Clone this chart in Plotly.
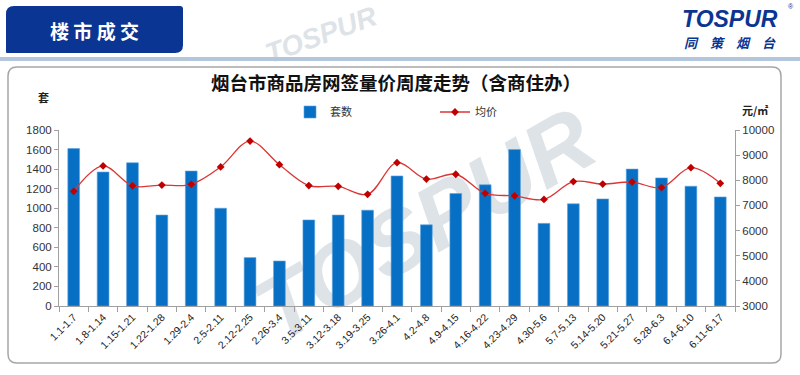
import plotly.graph_objects as go

weeks = ["1.1-1.7", "1.8-1.14", "1.15-1.21", "1.22-1.28", "1.29-2.4", "2.5-2.11",
         "2.12-2.25", "2.26-3.4", "3.5-3.11", "3.12-3.18", "3.19-3.25", "3.26-4.1",
         "4.2-4.8", "4.9-4.15", "4.16-4.22", "4.23-4.29", "4.30-5.6", "5.7-5.13",
         "5.14-5.20", "5.21-5.27", "5.28-6.3", "6.4-6.10", "6.11-6.17"]
units = [1610, 1370, 1465, 930, 1380, 1000, 495, 460, 880, 930, 980, 1330,
         830, 1150, 1240, 1600, 845, 1045, 1095, 1400, 1310, 1225, 1115]
price = [7560, 8570, 7780, 7810, 7840, 8530, 9560, 8620, 7790, 7760, 7440, 8700,
         8050, 8240, 7480, 7380, 7240, 7950, 7850, 7930, 7710, 8500, 7880]

left_ticks = [0, 200, 400, 600, 800, 1000, 1200, 1400, 1600, 1800]
right_ticks = [3000, 4000, 5000, 6000, 7000, 8000, 9000, 10000]
right_labels = [str(v) for v in right_ticks]

# plot area in pixels
X0, X1, YT, YB = 59, 735, 130, 306
W, H = 800, 375


def PX(x):
    return (x - X0) / (X1 - X0)


def PY(y):
    return (YB - y) / (YB - YT)


def rrect(x0, y0, x1, y1, r_tl, r_tr, r_br, r_bl):
    pts = []
    pts.append(f"M {PX(x0 + r_tl)},{PY(y0)}")
    pts.append(f"L {PX(x1 - r_tr)},{PY(y0)}")
    pts.append(f"Q {PX(x1)},{PY(y0)} {PX(x1)},{PY(y0 + r_tr)}")
    pts.append(f"L {PX(x1)},{PY(y1 - r_br)}")
    pts.append(f"Q {PX(x1)},{PY(y1)} {PX(x1 - r_br)},{PY(y1)}")
    pts.append(f"L {PX(x0 + r_bl)},{PY(y1)}")
    pts.append(f"Q {PX(x0)},{PY(y1)} {PX(x0)},{PY(y1 - r_bl)}")
    pts.append(f"L {PX(x0)},{PY(y0 + r_tl)}")
    pts.append(f"Q {PX(x0)},{PY(y0)} {PX(x0 + r_tl)},{PY(y0)}")
    pts.append("Z")
    return " ".join(pts)


CJK = "Noto Sans CJK SC"
NUM = "Liberation Sans"
BLUE_DARK = "#0b3593"

fig = go.Figure()
fig.add_trace(go.Bar(
    x=weeks, y=units, name="套数",
    marker=dict(color="#0870c4", line=dict(color="#5aa2e0", width=0.6)),
    yaxis="y",
))
fig.add_trace(go.Scatter(
    x=weeks, y=price, name="均价", yaxis="y2",
    mode="lines+markers",
    line=dict(color="#dc3535", width=1.3, shape="spline", smoothing=1.0),
    marker=dict(symbol="diamond", size=6, color="#c00000"),
))

shapes = []
# watermarks (behind the data)
wm_color = "rgba(190,199,208,0.5)"
for (bx0, by0, bx1, by1, size, ang) in [(190, 62, 650, 372, 90, -30),
                                        (230, 2, 410, 62, 28, -20)]:
    shapes.append(dict(
        type="rect", xref="paper", yref="paper",
        x0=PX(bx0), x1=PX(bx1), y0=PY(by1), y1=PY(by0),
        line=dict(width=0), fillcolor="rgba(0,0,0,0)", layer="below",
        label=dict(text="<b><i>TOSPUR</i></b>", textangle=ang,
                   font=dict(family=NUM, size=size, color=wm_color),
                   textposition="middle center"),
    ))
# chart frame
shapes.append(dict(type="path", xref="paper", yref="paper",
                   path=rrect(8, 67, 781, 363, 9, 9, 9, 9),
                   line=dict(color="#a6a6a6", width=1.5), fillcolor="rgba(0,0,0,0)",
                   layer="below"))
# thin band under header
shapes.append(dict(type="rect", xref="paper", yref="paper",
                   x0=PX(0), x1=PX(800), y0=PY(61), y1=PY(57),
                   line=dict(width=0), fillcolor="#b4c6db", layer="below"))
# header box
shapes.append(dict(type="path", xref="paper", yref="paper",
                   path=rrect(6, 6, 183, 53, 8, 3, 8, 1),
                   line=dict(width=0), fillcolor=BLUE_DARK, layer="above"))

annotations = [
    dict(text="<b>楼 市 成 交</b>", x=PX(94), y=PY(30), xref="paper", yref="paper",
         showarrow=False, font=dict(family=CJK, size=19, color="white"),
         xanchor="center", yanchor="middle"),
    dict(text="<b><i>TOSPUR</i></b>", x=PX(730), y=PY(19), xref="paper", yref="paper",
         showarrow=False, font=dict(family=NUM, size=23, color=BLUE_DARK),
         xanchor="center", yanchor="middle"),
    dict(text="®", x=PX(791), y=PY(6), xref="paper", yref="paper",
         showarrow=False, font=dict(family=NUM, size=7, color=BLUE_DARK),
         xanchor="center", yanchor="middle"),
    dict(text="<b><i>同　策　烟　台</i></b>", x=PX(730), y=PY(42), xref="paper", yref="paper",
         showarrow=False, font=dict(family=CJK, size=13, color=BLUE_DARK),
         xanchor="center", yanchor="middle"),
    dict(text="<b>烟台市商品房网签量价周度走势（含商住办）</b>", x=PX(396), y=PY(82),
         xref="paper", yref="paper", showarrow=False,
         font=dict(family=CJK, size=18.5, color="#111111"),
         xanchor="center", yanchor="middle"),
    dict(text="<b>套</b>", x=PX(43), y=PY(97), xref="paper", yref="paper",
         showarrow=False, font=dict(family=CJK, size=11, color="#222222"),
         xanchor="center", yanchor="middle"),
    dict(text="<b>元/㎡</b>", x=PX(755), y=PY(110), xref="paper", yref="paper",
         showarrow=False, font=dict(family=CJK, size=11, color="#222222"),
         xanchor="center", yanchor="middle"),
]

fig.update_layout(
    width=W, height=H,
    margin=dict(l=X0, r=W - X1, t=YT, b=H - YB, pad=0),
    paper_bgcolor="white", plot_bgcolor="rgba(0,0,0,0)",
    bargap=0.6,
    showlegend=True,
    legend=dict(orientation="h", x=PX(290), y=PY(112), xanchor="left", yanchor="middle",
                font=dict(family=CJK, size=11, color="#333333"),
                entrywidth=100, entrywidthmode="pixels", itemwidth=30,
                bgcolor="rgba(0,0,0,0)", traceorder="normal"),
    xaxis=dict(
        type="category", showgrid=False, showline=True, linecolor="#a0a0a0", linewidth=1,
        ticks="outside", ticklen=5, tickcolor="#a0a0a0", tickson="boundaries",
        tickangle=-45, tickfont=dict(family=NUM, size=10.5, color="#222222"),
        range=[-0.5, len(weeks) - 0.5],
    ),
    yaxis=dict(
        range=[0, 1800], tickvals=left_ticks, showgrid=False, zeroline=False,
        showline=True, linecolor="#a0a0a0", linewidth=1,
        ticks="outside", ticklen=4, tickcolor="#a0a0a0",
        tickfont=dict(family=NUM, size=11.5, color="#333333"),
    ),
    yaxis2=dict(
        range=[3000, 10000], tickvals=right_ticks, ticktext=right_labels,
        overlaying="y", side="right",
        showgrid=False, zeroline=False, showline=True, linecolor="#a0a0a0", linewidth=1,
        ticks="outside", ticklen=4, tickcolor="#a0a0a0",
        tickfont=dict(family=NUM, size=11.5, color="#333333"),
    ),
    shapes=shapes,
    annotations=annotations,
)

fig.write_html("out.html", config={"displayModeBar": False},
               post_script="document.body.style.margin='0';document.body.style.overflow='hidden';")
